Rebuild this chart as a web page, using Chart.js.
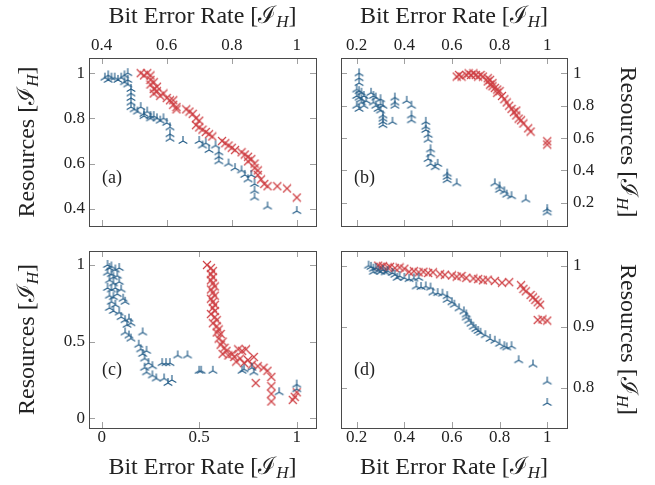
<!DOCTYPE html>
<html>
<head>
<meta charset="utf-8">
<script src="https://cdn.jsdelivr.net/npm/chart.js@4.4.1/dist/chart.umd.min.js"></script>
<style>
html, body { margin: 0; padding: 0; background: #fff; }
#quadro { position: relative; width: 655px; height: 485px; }
#quadro canvas { position: absolute; left: 0; top: 0; }
</style>
</head>
<body>
<div id="quadro">
	<canvas id="painelA" width="655" height="485"></canvas>
	<canvas id="painelB" width="655" height="485"></canvas>
	<canvas id="painelC" width="655" height="485"></canvas>
	<canvas id="painelD" width="655" height="485"></canvas>
</div>
<script>
// [bit error rate, resources]
var azulA = [[0.41,0.98],[0.42,0.99],[0.42,0.97],[0.43,0.98],[0.44,0.98],[0.45,0.97],[0.46,0.98],[0.47,0.99],[0.47,0.96],[0.48,0.97],
	[0.48,1.0],[0.48,0.95],[0.49,0.93],[0.49,0.91],[0.49,0.89],[0.49,0.87],[0.49,0.85],[0.50,0.84],[0.51,0.83],[0.52,0.85],
	[0.53,0.82],[0.53,0.81],[0.54,0.83],[0.55,0.81],[0.55,0.80],[0.56,0.81],[0.57,0.80],[0.58,0.79],[0.59,0.80],[0.60,0.78],
	[0.61,0.76],[0.61,0.73],[0.61,0.71],[0.65,0.70],[0.70,0.70],[0.71,0.68],[0.72,0.69],[0.73,0.66],[0.75,0.68],[0.76,0.65],
	[0.76,0.63],[0.76,0.61],[0.79,0.60],[0.81,0.58],[0.83,0.57],[0.84,0.55],[0.85,0.53],[0.86,0.55],[0.87,0.51],[0.87,0.48],
	[0.87,0.45],[0.91,0.41],[1.0,0.39]];
var vermelhoA = [[0.52,1.0],[0.53,0.99],[0.54,1.0],[0.55,0.99],[0.55,0.97],[0.55,0.95],[0.56,0.96],[0.56,0.93],[0.56,0.91],[0.57,0.94],
	[0.57,0.92],[0.58,0.90],[0.59,0.91],[0.60,0.89],[0.61,0.88],[0.62,0.88],[0.62,0.86],[0.63,0.85],[0.63,0.84],[0.66,0.84],
	[0.67,0.83],[0.68,0.82],[0.69,0.80],[0.70,0.79],[0.69,0.77],[0.70,0.76],[0.71,0.75],[0.72,0.74],[0.73,0.73],[0.74,0.72],
	[0.77,0.70],[0.78,0.69],[0.79,0.68],[0.80,0.67],[0.81,0.66],[0.83,0.65],[0.84,0.64],[0.85,0.63],[0.85,0.61],[0.86,0.62],
	[0.87,0.60],[0.87,0.58],[0.88,0.57],[0.88,0.55],[0.89,0.53],[0.90,0.51],[0.91,0.50],[0.94,0.50],[0.97,0.49],[1.0,0.45]];

var azulB = [[0.21,1.0],[0.21,0.97],[0.21,0.94],[0.20,0.90],[0.21,0.89],[0.22,0.88],[0.20,0.86],[0.21,0.85],[0.22,0.84],[0.23,0.86],
	[0.20,0.80],[0.21,0.78],[0.22,0.82],[0.23,0.80],[0.24,0.83],[0.26,0.88],[0.27,0.86],[0.27,0.82],[0.28,0.85],[0.28,0.80],
	[0.29,0.78],[0.30,0.84],[0.30,0.81],[0.31,0.80],[0.30,0.77],[0.31,0.74],[0.31,0.72],[0.31,0.70],[0.31,0.68],[0.36,0.85],
	[0.36,0.82],[0.36,0.80],[0.35,0.70],[0.41,0.83],[0.43,0.80],[0.43,0.74],[0.43,0.71],[0.49,0.70],[0.49,0.67],[0.49,0.65],
	[0.50,0.62],[0.50,0.59],[0.51,0.53],[0.51,0.50],[0.50,0.47],[0.51,0.44],[0.54,0.44],[0.53,0.42],[0.58,0.38],[0.58,0.36],
	[0.58,0.34],[0.62,0.32],[0.78,0.32],[0.80,0.30],[0.80,0.28],[0.82,0.27],[0.83,0.25],[0.85,0.24],[0.91,0.22],[1.0,0.16],[1.0,0.14]];
var vermelhoB = [[0.62,0.98],[0.63,0.99],[0.64,0.98],[0.66,0.99],[0.67,1.0],[0.68,0.99],[0.69,1.0],[0.70,0.99],[0.71,0.98],[0.72,0.99],
	[0.73,0.98],[0.75,0.97],[0.75,0.95],[0.76,0.96],[0.76,0.93],[0.77,0.94],[0.77,0.92],[0.78,0.91],[0.79,0.90],[0.79,0.88],
	[0.80,0.89],[0.81,0.86],[0.82,0.84],[0.83,0.82],[0.84,0.80],[0.85,0.78],[0.86,0.76],[0.87,0.77],[0.87,0.74],[0.88,0.72],
	[0.89,0.71],[0.90,0.69],[0.92,0.66],[0.93,0.64],[1.0,0.58],[1.0,0.56]];

var azulC = [[0.03,1.0],[0.04,0.98],[0.05,0.99],[0.07,0.97],[0.09,0.98],[0.03,0.95],[0.05,0.94],[0.06,0.92],[0.08,0.93],[0.04,0.90],
	[0.06,0.88],[0.09,0.89],[0.03,0.85],[0.05,0.84],[0.07,0.85],[0.10,0.84],[0.04,0.80],[0.06,0.79],[0.08,0.81],[0.11,0.78],
	[0.05,0.76],[0.07,0.74],[0.12,0.76],[0.04,0.72],[0.06,0.70],[0.09,0.69],[0.10,0.66],[0.12,0.64],[0.14,0.65],[0.15,0.62],
	[0.13,0.61],[0.12,0.56],[0.14,0.54],[0.15,0.52],[0.21,0.56],[0.19,0.48],[0.20,0.45],[0.21,0.42],[0.23,0.44],[0.22,0.39],
	[0.24,0.36],[0.22,0.33],[0.23,0.30],[0.26,0.34],[0.26,0.28],[0.28,0.26],[0.31,0.36],[0.33,0.36],[0.35,0.36],[0.32,0.26],
	[0.34,0.23],[0.36,0.25],[0.39,0.41],[0.44,0.41],[0.50,0.31],[0.51,0.31],[0.57,0.31],[0.72,0.31],[0.73,0.32],[0.77,0.33],
	[0.78,0.30],[0.91,0.17],[1.0,0.22],[1.0,0.19]];
var vermelhoC = [[0.54,1.0],[0.56,0.98],[0.57,0.96],[0.56,0.94],[0.57,0.92],[0.56,0.90],[0.57,0.88],[0.58,0.86],[0.56,0.84],[0.57,0.82],
	[0.58,0.80],[0.56,0.78],[0.57,0.76],[0.58,0.74],[0.57,0.72],[0.58,0.70],[0.56,0.68],[0.58,0.66],[0.59,0.64],[0.57,0.62],
	[0.59,0.60],[0.60,0.58],[0.59,0.56],[0.61,0.55],[0.60,0.52],[0.62,0.50],[0.61,0.48],[0.63,0.46],[0.64,0.44],[0.62,0.42],
	[0.65,0.41],[0.67,0.42],[0.68,0.40],[0.70,0.45],[0.72,0.44],[0.74,0.45],[0.69,0.37],[0.71,0.39],[0.73,0.36],[0.75,0.38],
	[0.77,0.35],[0.78,0.40],[0.80,0.34],[0.79,0.23],[0.83,0.33],[0.85,0.31],[0.87,0.27],[0.87,0.21],[0.87,0.16],[0.87,0.11],
	[0.98,0.12],[0.99,0.14],[1.0,0.17]];

var azulD = [[0.25,1.0],[0.26,0.998],[0.27,0.995],[0.27,0.99],[0.28,0.996],[0.29,0.992],[0.30,0.99],[0.31,0.993],[0.32,0.989],[0.33,0.991],
	[0.35,0.988],[0.36,0.985],[0.37,0.98],[0.38,0.983],[0.40,0.98],[0.42,0.978],[0.44,0.979],[0.46,0.98],[0.45,0.966],[0.47,0.965],
	[0.49,0.966],[0.51,0.964],[0.52,0.956],[0.54,0.955],[0.56,0.954],[0.58,0.95],[0.58,0.944],[0.60,0.94],[0.61,0.936],[0.63,0.93],
	[0.65,0.925],[0.66,0.92],[0.66,0.915],[0.67,0.91],[0.68,0.905],[0.69,0.90],[0.70,0.896],[0.71,0.893],[0.72,0.89],[0.74,0.886],
	[0.76,0.88],[0.78,0.877],[0.80,0.872],[0.82,0.868],[0.83,0.866],[0.85,0.868],[0.88,0.845],[0.94,0.838],[1.0,0.81],[1.0,0.775]];
var vermelhoD = [[0.29,1.0],[0.30,0.998],[0.31,0.999],[0.33,0.997],[0.34,0.998],[0.36,0.996],[0.38,0.997],[0.40,0.995],[0.42,0.99],[0.44,0.991],
	[0.46,0.989],[0.48,0.99],[0.50,0.988],[0.52,0.989],[0.55,0.986],[0.57,0.985],[0.60,0.984],[0.62,0.982],[0.64,0.983],[0.66,0.98],
	[0.69,0.979],[0.71,0.978],[0.73,0.976],[0.75,0.977],[0.78,0.975],[0.81,0.972],[0.84,0.973],[0.89,0.968],[0.90,0.962],[0.91,0.958],
	[0.93,0.952],[0.94,0.948],[0.95,0.944],[0.96,0.94],[0.97,0.936],[0.96,0.911],[0.98,0.912],[1.0,0.91]];

var ticksX_A = [0.4, 0.6, 0.8, 1], ticksY_A = [0.4, 0.6, 0.8, 1];
var ticksX_B = [0.2, 0.4, 0.6, 0.8, 1], ticksY_B = [0.2, 0.4, 0.6, 0.8, 1];
var ticksX_C = [0, 0.5, 1], ticksY_C = [0, 0.5, 1];
var ticksX_D = [0.2, 0.4, 0.6, 0.8, 1], ticksY_D = [0.8, 0.9, 1];

var COR_AZUL = '#245d88';
var COR_VERMELHA = '#cf4145';
var FONTE = '"Liberation Serif", "DejaVu Serif", serif';

function estrela(cor){
	var c = document.createElement('canvas');
	c.width = 12; c.height = 12;
	var g = c.getContext('2d');
	g.strokeStyle = cor; g.lineWidth = 1.15;
	g.beginPath();
	[90, 210, 330].forEach(function(a){
		var t = a * Math.PI / 180;
		g.moveTo(6, 6);
		g.lineTo(6 + 5 * Math.cos(t), 6 - 5 * Math.sin(t));
	});
	g.stroke();
	return c;
}

function xis(cor){
	var c = document.createElement('canvas');
	c.width = 10; c.height = 10;
	var g = c.getContext('2d');
	g.strokeStyle = cor; g.lineWidth = 1.15;
	g.beginPath();
	g.moveTo(1, 1); g.lineTo(9, 9);
	g.moveTo(9, 1); g.lineTo(1, 9);
	g.stroke();
	return c;
}

var marcaAzul = estrela(COR_AZUL);
var marcaVermelha = xis(COR_VERMELHA);

function paraPontos(lista){
	return lista.map(function(p){ return { x: p[0], y: p[1] }; });
}

function titulo(ctx, texto, cx, cy, ang){
	var fPrin = '24px ' + FONTE, fSub = 'italic 17px ' + FONTE;
	ctx.save();
	ctx.translate(cx, cy);
	ctx.rotate(ang);
	ctx.fillStyle = '#222';
	ctx.textBaseline = 'middle';
	ctx.textAlign = 'left';
	ctx.font = fPrin;
	var w1 = ctx.measureText(texto + ' [').width;
	var w2 = ctx.measureText('\u2110').width;
	var w4 = ctx.measureText(']').width;
	ctx.font = fSub;
	var w3 = ctx.measureText('H').width;
	var x = -(w1 + w2 + w3 + w4) / 2;
	ctx.font = fPrin;
	ctx.fillText(texto + ' [', x, 0); x += w1;
	ctx.fillText('\u2110', x, 0); x += w2;
	ctx.font = fSub;
	ctx.fillText('H', x, 6); x += w3;
	ctx.font = fPrin;
	ctx.fillText(']', x, 0);
	ctx.restore();
}

function moldura(cfg){
	return {
		id: 'moldura',
		afterDraw: function(chart){
			var ctx = chart.ctx, a = chart.chartArea;
			var sx = chart.scales.x, sy = chart.scales.y;
			ctx.save();
			ctx.lineWidth = 1;
			ctx.strokeStyle = '#a0a0a0';
			ctx.beginPath();
			cfg.ticksX.forEach(function(v){
				var px = Math.round(sx.getPixelForValue(v)) + 0.5;
				ctx.moveTo(px, a.bottom); ctx.lineTo(px, a.bottom - 6);
				ctx.moveTo(px, a.top); ctx.lineTo(px, a.top + 6);
			});
			cfg.ticksY.forEach(function(v){
				var py = Math.round(sy.getPixelForValue(v)) + 0.5;
				ctx.moveTo(a.left, py); ctx.lineTo(a.left + 6, py);
				ctx.moveTo(a.right, py); ctx.lineTo(a.right - 6, py);
			});
			ctx.stroke();
			ctx.strokeStyle = '#4a4a4a';
			ctx.strokeRect(Math.round(a.left) + 0.5, Math.round(a.top) + 0.5, Math.round(a.right - a.left), Math.round(a.bottom - a.top));

			ctx.fillStyle = '#222';
			ctx.font = '17px ' + FONTE;
			ctx.textBaseline = 'middle';
			ctx.textAlign = 'center';
			var yx = cfg.eixoXEmCima ? a.top - 12 : a.bottom + 10;
			cfg.ticksX.forEach(function(v){
				ctx.fillText(String(v), sx.getPixelForValue(v), yx);
			});
			ctx.textAlign = cfg.eixoYDireita ? 'left' : 'right';
			var xy = cfg.eixoYDireita ? a.right + 6 : a.left - 4;
			cfg.ticksY.forEach(function(v){
				ctx.fillText(String(v), xy, sy.getPixelForValue(v));
			});

			ctx.font = '18px ' + FONTE;
			ctx.textAlign = 'left';
			ctx.fillText(cfg.letra, a.left + 13, a.bottom - cfg.letraAcima);
			ctx.restore();

			var cx = (a.left + a.right) / 2, cy = (a.top + a.bottom) / 2;
			titulo(ctx, 'Bit Error Rate', cx, cfg.eixoXEmCima ? 17 : 468, 0);
			if (cfg.eixoYDireita) titulo(ctx, 'Resources', 627, cy, Math.PI / 2);
			else titulo(ctx, 'Resources', 28, cy, -Math.PI / 2);
		}
	};
}

function criarPainel(idCanvas, cfg){
	var area = cfg.area;
	return new Chart(document.getElementById(idCanvas), {
		type: 'scatter',
		data: {
			datasets: [
				{ data: paraPontos(cfg.azul), pointStyle: marcaAzul, pointRadius: 5, clip: false },
				{ data: paraPontos(cfg.vermelho), pointStyle: marcaVermelha, pointRadius: 5, clip: false }
			]
		},
		options: {
			responsive: false,
			animation: false,
			events: [],
			layout: { padding: { left: area[0], top: area[1], right: 655 - area[2], bottom: 485 - area[3] } },
			scales: {
				x: { type: 'linear', min: cfg.xMin, max: cfg.xMax, display: false },
				y: { type: 'linear', min: cfg.yMin, max: cfg.yMax, display: false }
			},
			plugins: { legend: { display: false }, tooltip: { enabled: false } }
		},
		plugins: [moldura(cfg)]
	});
}

criarPainel('painelA', {
	area: [89, 58, 316, 226], xMin: 0.361, xMax: 1.059, yMin: 0.324, yMax: 1.067,
	azul: azulA, vermelho: vermelhoA, ticksX: ticksX_A, ticksY: ticksY_A,
	eixoXEmCima: true, eixoYDireita: false, letra: '(a)', letraAcima: 48
});
criarPainel('painelB', {
	area: [341, 58, 567, 226], xMin: 0.134, xMax: 1.083, yMin: 0.056, yMax: 1.095,
	azul: azulB, vermelho: vermelhoB, ticksX: ticksX_B, ticksY: ticksY_B,
	eixoXEmCima: true, eixoYDireita: true, letra: '(b)', letraAcima: 48
});
criarPainel('painelC', {
	area: [89, 251, 316, 428], xMin: -0.065, xMax: 1.099, yMin: -0.063, yMax: 1.091,
	azul: azulC, vermelho: vermelhoC, ticksX: ticksX_C, ticksY: ticksY_C,
	eixoXEmCima: false, eixoYDireita: false, letra: '(c)', letraAcima: 58
});
criarPainel('painelD', {
	area: [341, 251, 567, 428], xMin: 0.134, xMax: 1.083, yMin: 0.734, yMax: 1.024,
	azul: azulD, vermelho: vermelhoD, ticksX: ticksX_D, ticksY: ticksY_D,
	eixoXEmCima: false, eixoYDireita: true, letra: '(d)', letraAcima: 58
});
</script>
</body>
</html>
